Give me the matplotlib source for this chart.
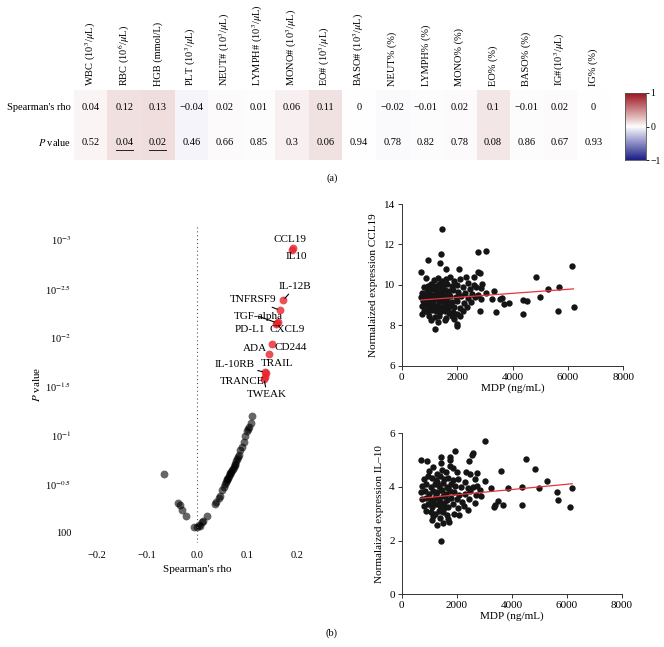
import matplotlib
matplotlib.use("Agg")
import matplotlib.pyplot as plt
import numpy as np
from matplotlib.colors import LinearSegmentedColormap

plt.rcParams["font.family"] = ["Liberation Serif", "DejaVu Serif"]
plt.rcParams["mathtext.fontset"] = "stix"
plt.rcParams["axes.unicode_minus"] = True

# ---------------- data: table (a) ----------------
params = ["WBC (10$^3$/$\\mu$L)", "RBC (10$^6$/$\\mu$L)", "HGB (mmol/L)", "PLT (10$^3$/$\\mu$L)",
          "NEUT# (10$^3$/$\\mu$L)", "LYMPH# (10$^3$/$\\mu$L)", "MONO# (10$^3$/$\\mu$L)",
          "EO# (10$^3$/$\\mu$L)", "BASO# (10$^3$/$\\mu$L)", "NEUT% (%)", "LYMPH% (%)",
          "MONO% (%)", "EO% (%)", "BASO% (%)", "IG#(10$^3$/$\\mu$L)", "IG% (%)"]
rho = [0.04, 0.12, 0.13, -0.04, 0.02, 0.01, 0.06, 0.11, 0, -0.02, -0.01, 0.02, 0.1, -0.01, 0.02, 0]
pval = [0.52, 0.04, 0.02, 0.46, 0.66, 0.85, 0.3, 0.06, 0.94, 0.78, 0.82, 0.78, 0.08, 0.86, 0.67, 0.93]

# ---------------- data: volcano (b, left) ----------------
sig_names = ["CCL19", "IL10", "IL-12B", "TNFRSF9", "TGF-alpha", "PD-L1", "CXCL9",
             "CD244", "ADA", "IL-10RB", "TRAIL", "TRANCE", "TWEAK"]
sig_rho = [0.192, 0.190, 0.172, 0.166, 0.160, 0.158, 0.161, 0.150, 0.144, 0.136, 0.137, 0.135, 0.134]
sig_nlp = [2.92, 2.90, 2.38, 2.28, 2.15, 2.14, 2.16, 1.93, 1.83, 1.645, 1.64, 1.60, 1.58]
lab_x = [0.186, 0.198, 0.196, 0.112, 0.122, 0.106, 0.180, 0.188, 0.116, 0.076, 0.160, 0.090, 0.140]
lab_y = [3.00, 2.835, 2.52, 2.385, 2.22, 2.08, 2.08, 1.90, 1.89, 1.72, 1.73, 1.555, 1.42]
lab_line = [False, False, True, True, True, False, False, False, False, True, False, False, True]

ns_rho = [0.109, 0.103, 0.099, 0.096, 0.093, 0.086, 0.079, 0.076, 0.073, 0.069, 0.066, 0.063,
          0.059, 0.053, 0.049, 0.043, 0.036, 0.019, 0.009, 0.005, -0.001, -0.007, -0.022,
          -0.031, -0.035, -0.039, -0.067, 0.056, 0.061, 0.067, 0.071, 0.075, 0.078, 0.081,
          0.083, 0.089, 0.101, 0.107, 0.045, 0.038, 0.011, 0.003, 0.065, 0.060, 0.057]
ns_nlp = [1.20, 1.09, 1.04, 0.99, 0.93, 0.85, 0.76, 0.71, 0.68, 0.64, 0.61, 0.58,
          0.54, 0.47, 0.44, 0.36, 0.30, 0.17, 0.11, 0.07, 0.06, 0.06, 0.17,
          0.24, 0.29, 0.31, 0.60, 0.50, 0.56, 0.62, 0.66, 0.70, 0.74, 0.78,
          0.80, 0.88, 1.06, 1.13, 0.38, 0.32, 0.12, 0.08, 0.60, 0.55, 0.52]
vol_ticks = [0, 0.5, 1, 1.5, 2, 2.5, 3]
vol_ticklabels = ["100", "10$^{-0.5}$", "10$^{-1}$", "10$^{-1.5}$", "10$^{-2}$", "10$^{-2.5}$", "10$^{-3}$"]

# ---------------- data: CCL19 vs MDP ----------------
ccl_x = [1453, 1429, 2738, 3050, 961, 1369, 685, 1585, 2054, 889, 2762, 2810, 2594, 2318,
         4864, 6137, 5693, 5296, 5008, 3339, 3243, 3399, 3555, 3627, 3699, 3891, 4384, 4540,
         4384, 5645, 6209, 2906, 3026, 2858, 2822, 1201, 1994, 2006, 1057, 745, 1561, 1321, 2102,
         1150, 1300, 1450, 1600, 1750, 1900, 2100, 2400, 2600, 2700, 2850,
         800, 950, 1050, 1200, 1350, 1500, 1650, 1800, 2000, 2200, 2450,
         750, 900, 1000, 1100, 1250, 1400, 1550, 1700, 1850, 2050, 2300, 2550, 2750,
         700, 850, 950, 1050, 1150, 1300, 1450, 1600, 1750, 1950, 2150, 2400, 2650,
         780, 900, 1000, 1100, 1200, 1350, 1500, 1650, 1800, 2000, 2250, 2500,
         720, 850, 950, 1050, 1150, 1300, 1450, 1600, 1750, 1900, 2100, 2350,
         800, 950, 1100, 1250, 1400, 1550, 1700, 1850, 2000, 2200,
         1000, 1200, 1350, 1600, 1800, 1900,
         1250, 1380, 1520, 1680, 1120, 1420, 1580, 1280]
ccl_y = [12.76, 11.54, 11.64, 11.68, 11.21, 11.06, 10.65, 10.76, 10.78, 10.32, 10.65, 10.57, 10.40, 10.40,
         10.37, 10.93, 9.90, 9.80, 9.39, 9.70, 9.30, 8.67, 9.30, 9.33, 9.07, 9.12, 9.24, 9.19,
         8.57, 8.71, 8.92, 10.04, 9.60, 9.30, 8.69, 7.83, 8.06, 7.98, 8.24, 8.57, 8.27, 8.14, 8.44,
         10.25, 10.35, 10.20, 10.30, 10.40, 10.20, 10.30, 10.10, 10.00, 9.90, 9.85,
         9.90, 9.95, 10.05, 9.95, 10.05, 9.95, 10.05, 9.95, 10.00, 9.90, 9.80,
         9.60, 9.70, 9.65, 9.80, 9.70, 9.80, 9.75, 9.70, 9.75, 9.65, 9.60, 9.55, 9.50,
         9.40, 9.45, 9.40, 9.50, 9.45, 9.50, 9.45, 9.50, 9.45, 9.40, 9.45, 9.35, 9.40,
         9.20, 9.15, 9.25, 9.20, 9.30, 9.20, 9.25, 9.20, 9.15, 9.20, 9.10, 9.15,
         8.95, 9.00, 8.90, 9.00, 8.95, 9.00, 8.90, 9.00, 8.95, 8.90, 8.85, 8.90,
         8.70, 8.65, 8.75, 8.70, 8.65, 8.70, 8.60, 8.65, 8.55, 8.70,
         8.45, 8.40, 8.45, 8.35, 8.45, 8.30,
         9.60, 9.35, 9.10, 8.85, 9.05, 9.65, 9.35, 8.80]
ccl_fit_x = [700, 6200]
ccl_fit_y = [9.25, 9.80]

# ---------------- data: IL-10 vs MDP ----------------
il_x = [3030, 691, 1927, 2557, 2606, 2448, 4509, 4860, 3600, 5284, 5006, 4375, 5636, 6193,
        5697, 6121, 4363, 3878, 3236, 3345, 3394, 3515, 3672, 1418, 1273, 1091, 1515, 1733,
        1758, 1770, 1442, 1430, 2727, 3042, 2327, 1758, 933,
        1000, 1150, 1300, 1450, 1600, 1850, 2000, 2500,
        800, 950, 1100, 1250, 1400, 1550, 1700, 1850, 2050, 2300, 2650, 2750,
        750, 900, 1050, 1200, 1350, 1500, 1650, 1800, 1950, 2150, 2400, 2600, 2850,
        700, 850, 1000, 1150, 1300, 1450, 1600, 1750, 1900, 2100, 2300, 2500, 2700, 2900,
        750, 900, 1050, 1200, 1350, 1500, 1650, 1800, 2000, 2200, 2450, 2650,
        800, 950, 1100, 1250, 1400, 1550, 1700, 1850, 2050, 2250, 2400,
        900, 1050, 1200, 1350, 1500, 1650, 1900, 2100,
        1150, 1400, 1700,
        1250, 1380, 1520, 1680, 1120, 1420, 1580, 1280]
il_y = [5.73, 5.01, 5.33, 5.20, 5.27, 4.97, 5.03, 4.66, 4.60, 4.23, 3.98, 4.01, 3.83, 3.98,
        3.51, 3.24, 3.34, 3.95, 3.95, 3.24, 3.34, 3.49, 3.34, 1.98, 2.57, 2.78, 2.66, 2.68,
        5.10, 5.01, 5.11, 4.89, 4.51, 4.23, 4.54, 4.79, 4.95,
        4.60, 4.75, 4.50, 4.65, 4.55, 4.70, 4.55, 4.50,
        4.30, 4.40, 4.35, 4.25, 4.40, 4.30, 4.35, 4.25, 4.30, 4.20, 4.30, 4.05,
        4.05, 4.10, 4.00, 4.10, 4.05, 4.15, 4.00, 4.10, 4.05, 4.00, 3.95, 4.00, 3.90,
        3.80, 3.85, 3.75, 3.85, 3.80, 3.90, 3.75, 3.85, 3.80, 3.70, 3.75, 3.85, 3.70, 3.65,
        3.55, 3.60, 3.50, 3.60, 3.55, 3.65, 3.50, 3.60, 3.55, 3.45, 3.55, 3.40,
        3.30, 3.35, 3.25, 3.35, 3.30, 3.40, 3.25, 3.35, 3.20, 3.30, 3.15,
        3.10, 3.05, 3.00, 3.10, 3.05, 2.95, 3.00, 2.95,
        2.90, 2.85, 2.80,
        3.70, 3.45, 3.20, 3.95, 3.40, 3.90, 3.65, 4.20]
il_fit_x = [700, 6200]
il_fit_y = [3.58, 4.12]

W, H = 664, 647
fig = plt.figure(figsize=(W / 100, H / 100), dpi=100)


def box(x0, y0, x1, y1):
    return [x0 / W, 1 - y1 / H, (x1 - x0) / W, (y1 - y0) / H]


# ---------------- (a) table ----------------
cmap = LinearSegmentedColormap.from_list(
    "nwr", [(0, "#1c1f87"), (0.4, "#cfcfe8"), (0.5, "#ffffff"), (0.6, "#e8cccc"), (1, "#9c1520")])
ax_t = fig.add_axes(box(74, 90, 610, 160))
n = len(rho)
ax_t.imshow(np.vstack([rho, rho]), cmap=cmap, vmin=-1, vmax=1, aspect="auto")
for i in range(n):
    ax_t.text(i, 0, f"{rho[i]:g}".replace("-", "\u2212"), ha="center", va="center", fontsize=7.5)
    ax_t.text(i, 1, f"{pval[i]:g}", ha="center", va="center", fontsize=7.5)
    if pval[i] < 0.05:
        ax_t.plot([i - 0.25, i + 0.25], [1.2, 1.2], color="#222222", lw=0.7)
    ax_t.text(i, -0.62, params[i], rotation=90, ha="center", va="bottom", fontsize=7.5)
ax_t.set_xlim(-0.5, n - 0.5)
ax_t.set_ylim(1.5, -0.5)
ax_t.axis("off")
ax_t.text(-0.6, 0, "Spearman's rho", ha="right", va="center", fontsize=7.5)
ax_t.text(-0.6, 1, "$P$ value", ha="right", va="center", fontsize=7.5)

ax_c = fig.add_axes(box(625, 93, 646, 160))
grad = np.linspace(1, -1, 100).reshape(-1, 1)
ax_c.imshow(grad, cmap=cmap, vmin=-1, vmax=1, aspect="auto", extent=[0, 1, -1, 1])
ax_c.set_xticks([])
ax_c.yaxis.tick_right()
ax_c.set_yticks([1, 0, -1])
ax_c.set_yticklabels(["1", "0", "\u22121"], fontsize=7)
ax_c.tick_params(axis="y", length=2, width=0.6, pad=1)
for s in ax_c.spines.values():
    s.set_linewidth(0.6)
    s.set_color("#555555")

fig.text(0.5, 1 - 178 / H, "(a)", ha="center", va="center", fontsize=7.5)
fig.text(0.5, 1 - 633 / H, "(b)", ha="center", va="center", fontsize=7.5)

# ---------------- (b) volcano ----------------
ax_v = fig.add_axes(box(77, 225, 317, 543))
ax_v.scatter(ns_rho, ns_nlp, s=32, color="black", alpha=0.6, linewidths=0)
ax_v.scatter(sig_rho, sig_nlp, s=32, color="#e8242c", alpha=0.8, linewidths=0)
ax_v.axvline(0, color="#555555", lw=0.8, ls=(0, (1, 2.5)))
for i in range(len(sig_names)):
    if lab_line[i]:
        ax_v.annotate(sig_names[i], xy=(sig_rho[i], sig_nlp[i]), xytext=(lab_x[i], lab_y[i]),
                      ha="center", va="center", fontsize=8,
                      arrowprops=dict(arrowstyle="-", lw=0.8, color="black", shrinkA=0, shrinkB=2))
    else:
        ax_v.text(lab_x[i], lab_y[i], sig_names[i], ha="center", va="center", fontsize=8)
ax_v.set_xlim(-0.24, 0.24)
ax_v.set_ylim((533 - 543) / 97.7, (533 - 225) / 97.7)
ax_v.set_xticks([-0.2, -0.1, 0.0, 0.1, 0.2])
ax_v.set_xticklabels(["\u22120.2", "\u22120.1", "0.0", "0.1", "0.2"])
ax_v.set_yticks(vol_ticks)
ax_v.set_yticklabels(vol_ticklabels)
ax_v.tick_params(length=0, labelsize=7.5, pad=4)
ax_v.tick_params(axis="x", pad=6)
for s in ax_v.spines.values():
    s.set_visible(False)
ax_v.set_xlabel("Spearman's rho", fontsize=8, labelpad=3)
ax_v.set_ylabel("$P$ value", fontsize=8, labelpad=2)


# ---------------- (b) scatter plots ----------------
def style(ax):
    for s in ["top", "right"]:
        ax.spines[s].set_visible(False)
    for s in ["left", "bottom"]:
        ax.spines[s].set_linewidth(0.7)
        ax.spines[s].set_color("#333333")
    ax.tick_params(length=3, width=0.7, labelsize=8, pad=2, color="#333333")


ax1 = fig.add_axes(box(401.7, 204, 623.3, 365.7))
ax1.scatter(ccl_x, ccl_y, s=21, color="#151515", linewidths=0)
ax1.plot(ccl_fit_x, ccl_fit_y, color="#e8323c", lw=0.9)
ax1.set_xlim(0, 8000)
ax1.set_ylim(6, 14)
ax1.set_xticks([0, 2000, 4000, 6000, 8000])
ax1.set_yticks([6, 8, 10, 12, 14])
ax1.set_xlabel("MDP (ng/mL)", fontsize=8, labelpad=1)
ax1.set_ylabel("Normalaized expression CCL19", fontsize=8, labelpad=4)
style(ax1)

ax2 = fig.add_axes(box(401.7, 433.3, 621.7, 594.3))
ax2.scatter(il_x, il_y, s=21, color="#151515", linewidths=0)
ax2.plot(il_fit_x, il_fit_y, color="#e8323c", lw=0.9)
ax2.set_xlim(0, 8000)
ax2.set_ylim(0, 6)
ax2.set_xticks([0, 2000, 4000, 6000, 8000])
ax2.set_yticks([0, 2, 4, 6])
ax2.set_xlabel("MDP (ng/mL)", fontsize=8, labelpad=1)
ax2.set_ylabel("Normalaized expression IL\u201310", fontsize=8, labelpad=4)
style(ax2)

fig.savefig("out.png", dpi=100)
